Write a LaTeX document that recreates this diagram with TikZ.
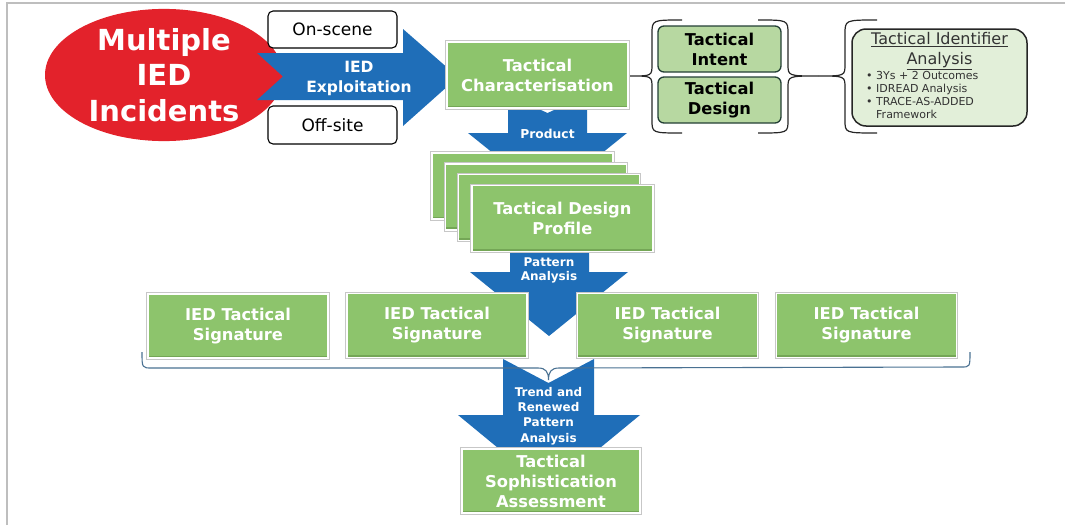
\documentclass[tikz,border=0pt]{standalone}
\usepackage{fontspec}
\setmainfont{DejaVu Sans}
\usetikzlibrary{shapes.geometric}
\definecolor{iedred}{HTML}{E3222B}
\definecolor{iedblue}{HTML}{1F6EB8}
\definecolor{gfill}{HTML}{8DC46C}
\definecolor{gdark}{HTML}{74A656}
\definecolor{lgfill}{HTML}{B7D8A1}
\definecolor{lgdraw}{HTML}{233F35}
\definecolor{idfill}{HTML}{E2EFD9}
\definecolor{idtext}{HTML}{333333}
\definecolor{bracec}{HTML}{4A7192}
\definecolor{framec}{HTML}{BEBEBE}
\begin{document}
\begin{tikzpicture}[x=1pt,y=-1pt,
  gbox/.style={rectangle, fill=gfill, draw=white, line width=1.6pt, inner sep=1pt,
    text=white, font=\bfseries\fontsize{16.3}{20}\selectfont, align=center,
    minimum width=181pt, minimum height=66pt,
    preaction={draw=black!22, line width=3.6pt},
    path picture={\fill[gdark] (path picture bounding box.south west) rectangle ([yshift=2.5pt]path picture bounding box.south east);}},
  sigbox/.style={gbox, minimum width=180pt, minimum height=64pt},
  lgbox/.style={rectangle, rounded corners=6pt, fill=lgfill, draw=lgdraw, line width=1.3pt,
    minimum width=123pt, minimum height=46pt, inner sep=1pt, align=center,
    font=\bfseries\fontsize{16.3}{20}\selectfont},
  wbox/.style={rectangle, rounded corners=5pt, fill=white, draw=black, line width=1.1pt,
    minimum width=129pt, minimum height=37pt, inner sep=1pt,
    font=\fontsize{17}{20}\selectfont},
  bluearrow/.style={fill=iedblue},
  arrowtext/.style={text=white, font=\bfseries\fontsize{12.3}{15}\selectfont, align=center, inner sep=0pt},
  bracepath/.style={draw=black!85, line width=1.2pt}
]
\useasboundingbox (0,0) rectangle (1065,525);
% frame
\draw[framec, line width=1.5pt] (7,525) -- (7,3) -- (1065,3);

% red ellipse
\node[ellipse, fill=iedred, minimum width=238pt, minimum height=128pt, inner sep=0pt,
  text=white, font=\bfseries\fontsize{29}{35.5}\selectfont, align=center] (inc) at (164,75)
  {Multiple\\IED\\Incidents};

% IED exploitation arrow
\fill[bluearrow] (257,53) -- (403,53) -- (403,29) -- (458,77) -- (403,126) -- (403,100) -- (257,100) -- (283,76.5) -- cycle;
\node[arrowtext, font=\bfseries\fontsize{15.5}{20}\selectfont] (expl) at (359,78) {IED\\Exploitation};

\node[wbox] (onscene) at (332.5,29.5) {On-scene};
\node[wbox, minimum height=38pt] (offsite) at (332.5,125) {Off-site};

% product arrow
\fill[bluearrow] (508,95) -- (547.5,113) -- (587,95) -- (587,133) -- (627,133) -- (547.5,197) -- (468,133) -- (508,133) -- cycle;
% pattern arrow
\fill[bluearrow] (510,240) -- (589,240) -- (589,272) -- (628,272) -- (549,336) -- (470,272) -- (510,272) -- cycle;
% trend arrow
\fill[bluearrow] (503,359) -- (548.5,383) -- (594,359) -- (594,415) -- (640,415) -- (549,490) -- (458,415) -- (503,415) -- cycle;

% tactical characterisation
\node[gbox] (tc) at (537.5,75) {Tactical\\Characterisation};
\node[arrowtext] (prod) at (547.5,134) {Product};

% stack
\node[gbox] (tdp1) at (522.5,186) {};
\node[gbox] (tdp2) at (535.8,196.8) {};
\node[gbox] (tdp3) at (549.1,207.6) {};
\node[gbox] (tdp) at (562.4,218.4) {Tactical Design\\Profile};
\node[arrowtext, font=\bfseries\fontsize{12}{14}\selectfont] (patt) at (549,270) {Pattern\\Analysis};

% signatures
\node[sigbox] (s1) at (238,326) {IED Tactical\\Signature};
\node[sigbox] (s2) at (437,325.5) {IED Tactical\\Signature};
\node[sigbox] (s3) at (667.5,325.5) {IED Tactical\\Signature};
\node[sigbox] (s4) at (866.5,325.5) {IED Tactical\\Signature};

% bottom brace
\draw[bracec, line width=1.1pt] (142,352) .. controls (142,368) .. (152,368) -- (538,368)
  .. controls (546,368) and (548.5,372) .. (548.5,380)
  .. controls (548.5,372) and (551,368) .. (559,368) -- (961,367)
  .. controls (970,367) .. (970,352);

\node[arrowtext, font=\bfseries\fontsize{12}{15.3}\selectfont] (trend) at (548.5,416) {Trend and\\Renewed\\Pattern\\Analysis};

% TSA
\node[sigbox, minimum width=178pt, inner sep=0pt] (tsa) at (551,481) {Tactical\\Sophistication\\Assessment};

% intent / design
\node[lgbox] (intent) at (719.5,49) {Tactical\\Intent};
\node[lgbox] (design) at (719.5,100) {Tactical\\Design};

% braces
\draw[bracepath] (682,20) .. controls (652,20) .. (652,34) -- (652,64) .. controls (652,76) .. (630,76)
  .. controls (652,76) .. (652,88) -- (652,120) .. controls (652,133) .. (682,133);
\draw[bracepath] (758,20) .. controls (788,20) .. (788,34) -- (788,64) .. controls (788,76) .. (818,76)
  .. controls (788,76) .. (788,88) -- (788,120) .. controls (788,133) .. (758,133);
\draw[bracepath] (877,20) .. controls (845,20) .. (845,34) -- (845,64) .. controls (845,76) .. (818,76)
  .. controls (845,76) .. (845,88) -- (845,120) .. controls (845,133) .. (877,133);

% identifier analysis
\node[rectangle, rounded corners=14pt, fill=idfill, draw=black!85, line width=1.5pt,
  minimum width=175pt, minimum height=97pt] (idbox) at (939.5,77.5) {};
\node[text=idtext, font=\fontsize{16}{20}\selectfont, align=center, inner sep=0pt] (idtitle) at (939.5,51)
  {\underline{Tactical Identifier}\\\underline{Analysis}};
\node[anchor=north west, text=idtext, font=\fontsize{11}{13}\selectfont, align=left, inner sep=0pt] (idlist) at (866,71.5)
  {• 3Ys + 2 Outcomes\\• IDREAD Analysis\\• TRACE-AS-ADDED\\\phantom{• }Framework};
\end{tikzpicture}
\end{document}
